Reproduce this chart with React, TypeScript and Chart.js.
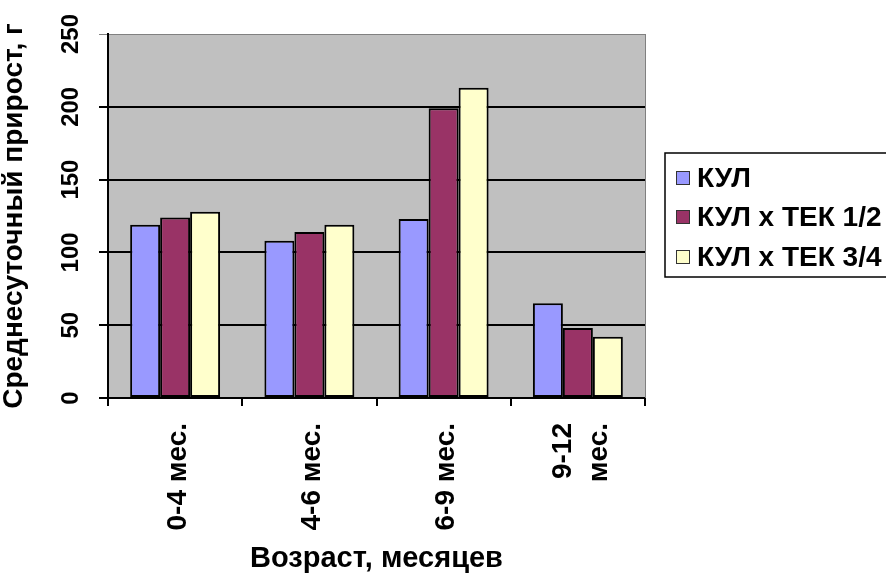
import React, { useEffect, useRef } from "react";
import { Chart, registerables } from "chart.js";

Chart.register(...registerables);

const categories: (string | string[])[] = ["0-4 мес.", "4-6 мес.", "6-9 мес.", ["9-12", "мес."]];
const seriesLabels = ["КУЛ", "КУЛ x ТЕК 1/2", "КУЛ x ТЕК 3/4"];
const kul = [119, 108, 123, 65];
const kulTek12 = [124, 114, 199, 48];
const kulTek34 = [128, 119, 213, 42];
const seriesColors = ["#9999FF", "#993366", "#FFFFCC"];
const yMin = 0;
const yMax = 250;
const yStep = 50;
const yTitle = "Среднесуточный прирост, г";
const xTitle = "Возраст, месяцев";

const FONT = '"Liberation Sans", Arial, sans-serif';

const decorPlugin = {
  id: "decor",
  beforeDraw(chart: any) {
    const { ctx, chartArea: a } = chart;
    ctx.save();
    ctx.fillStyle = "#C0C0C0";
    ctx.fillRect(a.left, a.top, a.right - a.left, a.bottom - a.top);
    ctx.restore();
  },
  afterDraw(chart: any) {
    const { ctx, chartArea: a } = chart;
    ctx.save();
    // right border of plot
    ctx.strokeStyle = "#808080";
    ctx.lineWidth = 1;
    ctx.beginPath();
    ctx.moveTo(a.right + 0.5, a.top);
    ctx.lineTo(a.right + 0.5, a.bottom);
    ctx.stroke();

    // rotated y tick labels
    const ys = chart.scales.y;
    ctx.fillStyle = "#000";
    ctx.font = `bold 24px ${FONT}`;
    ctx.textAlign = "center";
    ctx.textBaseline = "middle";
    ys.ticks.forEach((t: any) => {
      const py = ys.getPixelForValue(t.value);
      ctx.save();
      ctx.translate(71, py);
      ctx.rotate(-Math.PI / 2);
      ctx.fillText(String(t.value), 0, 0);
      ctx.restore();
    });

    // rotated x tick labels (multi-line centred on the category)
    const xs = chart.scales.x;
    ctx.font = `bold 28px ${FONT}`;
    ctx.textAlign = "right";
    ctx.textBaseline = "middle";
    const labels = chart.data.labels as (string | string[])[];
    labels.forEach((lab, i) => {
      const lines = Array.isArray(lab) ? lab : [lab];
      const cx = xs.getPixelForValue(i) + 3;
      lines.forEach((ln, k) => {
        const off = (k - (lines.length - 1) / 2) * 36;
        ctx.save();
        ctx.translate(cx + off, a.bottom + 25);
        ctx.rotate(-Math.PI / 2);
        ctx.fillText(ln, 0, 0);
        ctx.restore();
      });
    });

    // legend
    const lx = 665;
    const ly = 153;
    const lw = 260;
    const lh = 124;
    ctx.strokeStyle = "#000";
    ctx.lineWidth = 1.5;
    ctx.strokeRect(lx, ly, lw, lh);
    const rows = [178, 217, 257];
    ctx.textAlign = "left";
    ctx.font = `bold 28px ${FONT}`;
    chart.data.datasets.forEach((ds: any, i: number) => {
      const cy = rows[i];
      ctx.fillStyle = ds.backgroundColor;
      ctx.fillRect(676, cy - 7, 14, 14);
      ctx.strokeStyle = "#333";
      ctx.lineWidth = 1;
      ctx.strokeRect(676.5, cy - 6.5, 13, 13);
      ctx.fillStyle = "#000";
      ctx.fillText(ds.label, 697, cy + 1);
    });
    ctx.restore();
  },
};

export default function App() {
  const ref = useRef<HTMLCanvasElement | null>(null);

  useEffect(() => {
    if (!ref.current) return;
    const chart = new Chart(ref.current, {
      type: "bar",
      data: {
        labels: categories as any,
        datasets: [kul, kulTek12, kulTek34].map((d, i) => ({
          label: seriesLabels[i],
          data: d,
          backgroundColor: seriesColors[i],
          borderColor: "#000",
          borderWidth: 2,
          borderSkipped: false,
          categoryPercentage: 0.67,
          barPercentage: 1,
        })),
      },
      options: {
        animation: false,
        responsive: false,
        layout: { padding: { top: 34, right: 241, left: 0, bottom: 0 } },
        plugins: {
          legend: { display: false },
          tooltip: { enabled: false },
        },
        scales: {
          x: {
            afterFit: (s: any) => {
              s.height = 175;
            },
            grid: {
              offset: true,
              drawOnChartArea: false,
              drawTicks: true,
              tickLength: 8,
              color: "#000",
              lineWidth: 2,
            },
            border: { color: "#000", width: 2 },
            ticks: { autoSkip: false, display: false },
            title: {
              display: true,
              text: xTitle,
              color: "#000",
              padding: { top: 0, bottom: 0 },
              font: { family: FONT, size: 29, weight: "bold", lineHeight: 1 },
            },
          },
          y: {
            min: yMin,
            max: yMax,
            afterFit: (s: any) => {
              s.width = 108;
            },
            ticks: { stepSize: yStep, display: false },
            grid: {
              color: (c: any) => (c.tick && c.tick.value === yMax ? "#808080" : "#000"),
              lineWidth: (c: any) => (c.tick && c.tick.value === yMax ? 1 : 2),
              tickLength: 9,
              drawTicks: true,
            },
            border: { color: "#000", width: 2 },
            title: {
              display: true,
              text: yTitle,
              color: "#000",
              padding: { top: 0, bottom: 0 },
              font: { family: FONT, size: 28, weight: "bold", lineHeight: 1 },
            },
          },
        },
      },
      plugins: [decorPlugin],
    });
    return () => chart.destroy();
  }, []);

  return (
    <div style={{ position: "fixed", left: 0, top: 0, width: 886, height: 573, background: "#fff" }}>
      <canvas ref={ref} width={886} height={573} style={{ width: 886, height: 573 }} />
    </div>
  );
}
